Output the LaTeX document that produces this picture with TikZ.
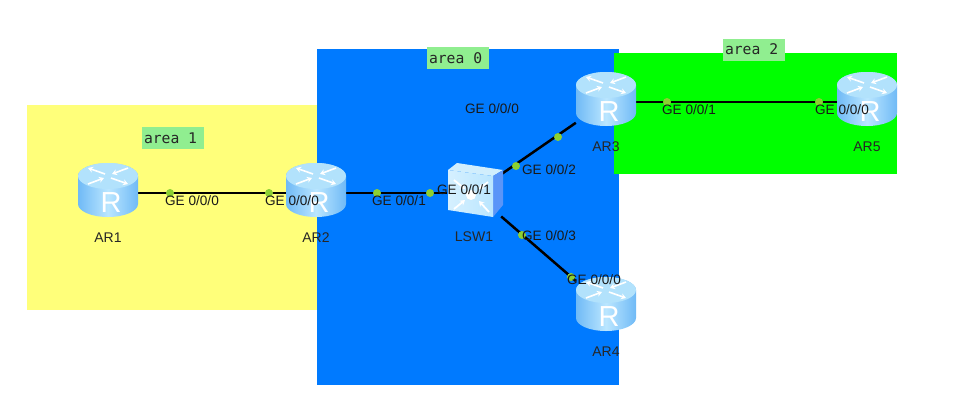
\documentclass[tikz,border=0pt]{standalone}
\usepackage{fontspec}
\setmainfont{Liberation Sans}
\setmonofont{DejaVu Sans Mono}
\usetikzlibrary{arrows.meta,backgrounds}
\definecolor{areaYellow}{RGB}{255,255,122}
\definecolor{areaBlue}{RGB}{0,122,255}
\definecolor{areaGreen}{RGB}{0,255,0}
\definecolor{tagGreen}{RGB}{144,238,144}
\definecolor{portDot}{RGB}{140,208,50}
\definecolor{iconTop}{RGB}{178,226,252}
\definecolor{iconEdge}{RGB}{112,186,246}
\definecolor{iconMid}{RGB}{186,230,255}
\newcommand{\tagtext}[1]{\makebox[58pt][l]{#1}}
\tikzset{
  areatag/.style={fill=tagGreen, font=\ttfamily\fontsize{14.7}{17}\selectfont, text=black!85,
    minimum height=22pt, inner xsep=2pt, inner ysep=0pt},
  port/.style={font=\fontsize{13.6}{15}\selectfont, text=black!90, inner sep=0pt},
  portdot/.style={circle, fill=portDot, minimum size=8pt, inner sep=0pt},
  link/.style={line width=2.5pt, black},
  device/.style={font=\fontsize{14}{16}\selectfont, text=black!85},
  routerbox/.style={minimum width=60pt, minimum height=60pt, inner sep=0pt},
  switchbox/.style={minimum width=54pt, minimum height=54pt, inner sep=0pt},
  router/.pic={
    % body, then lid
    \path[left color=iconEdge, right color=iconEdge, middle color=iconMid]
      (-30,-17) -- (-30,11) arc[start angle=180, end angle=0, x radius=30, y radius=13]
      -- (30,-17) arc[start angle=0, end angle=-180, x radius=30, y radius=13] -- cycle;
    \fill[iconTop] (0,-17) ellipse[x radius=30, y radius=13];
    \foreach \sx/\sy in {1/1,-1/-1}{
      \draw[white, line width=1.6pt, -{Stealth[length=5pt,width=6pt]}] (\sx*3,\sy*2-17) -- (\sx*20,\sy*8-17);
      \draw[white, line width=1.6pt, -{Stealth[length=5pt,width=6pt]}] (\sx*20,-\sy*8-17) -- (\sx*4,-\sy*2-17);
    }
    \node[white, font=\fontsize{29}{29}\selectfont, inner sep=0pt] at (3,10) {R};
  },
  switchicon/.pic={
    \fill[iconTop!60!white] (-26,-21) -- (-17,-28) -- (29,-21) -- (19,-15) -- cycle;
    \fill[iconEdge!80!blue] (19,-15) -- (29,-21) -- (29,14) -- (19,26) -- cycle;
    \path[left color=iconMid!60!white, right color=iconMid] (-26,-21) -- (19,-15) -- (19,26) -- (-26,19) -- cycle;
    \fill[white] (-3,4) circle[radius=5pt];
    \foreach \ax/\ay/\bx/\by in {-20/18/-9/9, 15/21/5/10, -20/-11/-9/-2, 14/-9/5/-2}{
      \draw[white, line width=1.8pt, -{Stealth[length=5pt,width=6pt]}] (\ax,\ay) -- (\bx,\by);
    }
  }
}
\begin{document}
\begin{tikzpicture}[x=1pt, y=-1pt]
\useasboundingbox (0,0) rectangle (962,416);
% devices
\node[routerbox, label={[device, label distance=6pt]below:AR1}] (AR1) at (108,193) {};
\node[routerbox, label={[device, label distance=6pt]below:AR2}] (AR2) at (316,193) {};
\node[routerbox, label={[device, label distance=6pt]below:AR3}] (AR3) at (606,102) {};
\node[routerbox, label={[device, label distance=6pt]below:AR4}] (AR4) at (606,307) {};
\node[routerbox, label={[device, label distance=6pt]below:AR5}] (AR5) at (867,102) {};
\node[switchbox, label={[device, label distance=8pt]below:LSW1}] (LSW1) at (474,193) {};
\foreach \r in {AR1,AR2,AR3,AR4,AR5}{
  \pic at (\r) {router};
}
\pic[yshift=2pt] at (LSW1) {switchicon};
% areas and links go under the icons
\begin{scope}[on background layer]
\fill[areaYellow] (27,105) rectangle (317,310);
\fill[areaBlue] (317,49) rectangle (619,385);
\fill[areaGreen] (614,53) rectangle (897,174);
\draw[link] (AR1) -- (AR2);
\draw[link] (AR2) -- (LSW1);
\draw[link] (LSW1) -- (AR3);
\draw[link] (LSW1) -- (AR4);
\draw[link] (AR3) -- (AR5);
\end{scope}
% area tags
\node[areatag] (tag1) at (173,138) {\tagtext{area 1}};
\node[areatag] (tag0) at (458,58) {\tagtext{area 0}};
\node[areatag] (tag2) at (754,49.5) {\tagtext{area 2}};
% port dots
\foreach \n/\px/\py in {p1/170/193, p2/269/193, p3/377/193, p4/430/193, p5/516/166,
  p6/558/137, p7/522/235, p8/571/277, p9/667/102, p10/819/102}{
  \node[portdot] (\n) at (\px,\py) {};
}
% port labels
\node[port] (ge1) at (192,201) {GE 0/0/0};
\node[port] (ge2) at (292,201) {GE 0/0/0};
\node[port] (ge3) at (399,201) {GE 0/0/1};
\node[port] (ge4) at (464,190) {GE 0/0/1};
\node[port] (ge5) at (492,109) {GE 0/0/0};
\node[port] (ge6) at (549,170) {GE 0/0/2};
\node[port] (ge7) at (549,236) {GE 0/0/3};
\node[port] (ge8) at (594,280) {GE 0/0/0};
\node[port] (ge9) at (689,110) {GE 0/0/1};
\node[port] (ge10) at (842,110) {GE 0/0/0};
\end{tikzpicture}
\end{document}
